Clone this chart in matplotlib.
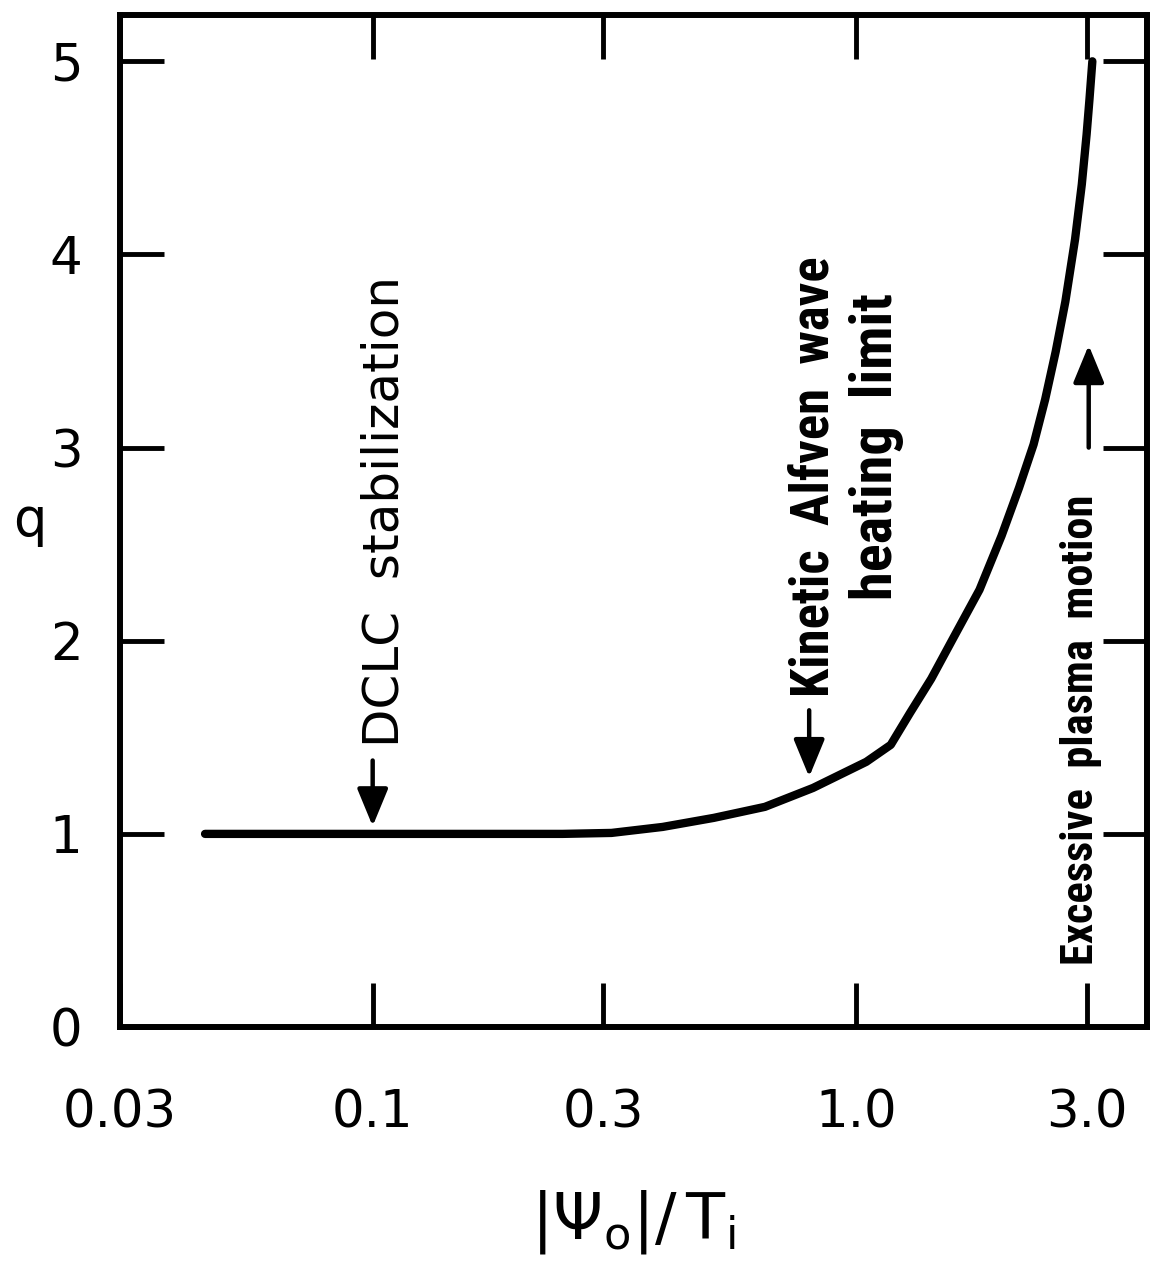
import matplotlib
matplotlib.use("Agg")
import matplotlib.pyplot as plt

# ---- data ----
psi_over_T = [0.045, 0.10, 0.247, 0.312, 0.398, 0.508, 0.648, 0.815, 1.05,
              1.180, 1.294, 1.431, 1.591, 1.801, 2.001, 2.175, 2.330, 2.462,
              2.589, 2.711, 2.839, 2.932, 3.000, 3.041, 3.083]
q_values = [1.0, 1.0, 1.0, 1.005, 1.036, 1.083, 1.14, 1.238, 1.373,
            1.461, 1.627, 1.803, 2.016, 2.264, 2.544, 2.793, 3.016, 3.249,
            3.497, 3.756, 4.078, 4.363, 4.622, 4.803, 5.0]

x_ticks = [0.03, 0.1, 0.3, 1.0, 3.0]
x_tick_labels = ["0.03", "0.1", "0.3", "1.0", "3.0"]
y_ticks = [0, 1, 2, 3, 4, 5]
y_tick_labels = ["0", "1", "2", "3", "4", "5"]

plt.rcParams['font.family'] = ['DejaVu Sans']
plt.rcParams['mathtext.fontset'] = 'dejavusans'
narrow = ['Roboto Condensed', 'Liberation Sans Narrow', 'DejaVu Sans Condensed',
          'DejaVu Sans']

fig = plt.figure(figsize=(11.5, 12.67), dpi=100)
ax = fig.add_axes([0.1043, 0.1894, 0.8931, 0.7988])

ax.plot(psi_over_T, q_values, color='black', lw=6, solid_capstyle='round',
        solid_joinstyle='round')

ax.set_xscale('log')
ax.set_xlim(0.03, 4.0)
ax.set_ylim(0, 5.24)

ax.set_xticks(x_ticks)
ax.set_xticklabels(x_tick_labels)
ax.set_yticks(y_ticks)
ax.set_yticklabels(y_tick_labels)
ax.xaxis.set_minor_locator(matplotlib.ticker.NullLocator())
ax.yaxis.set_minor_locator(matplotlib.ticker.NullLocator())

ax.tick_params(axis='both', which='major', direction='in', length=32,
               width=3.5, top=True, right=True, labelsize=37, color='black')
ax.tick_params(axis='x', pad=44)
ax.tick_params(axis='y', pad=27)

for sp in ax.spines.values():
    sp.set_linewidth(4.3)
    sp.set_color('black')

# axis labels
ax.text(-0.088, 0.50, 'q', transform=ax.transAxes, fontsize=38,
        ha='center', va='center')
ax.set_xlabel(r'$|\Psi_\mathrm{o}|/\,\mathrm{T}_\mathrm{i}$', fontsize=46,
              labelpad=36)

# annotations: vertical texts with arrows
arrow_kw = dict(arrowstyle='-|>,head_length=2.3,head_width=0.95', lw=3.2,
                color='black', shrinkA=0, shrinkB=0)

# DCLC stabilization
ax.annotate('', xy=(0.1, 1.04), xytext=(0.1, 1.38), arrowprops=arrow_kw)
ax.text(0.106, 1.45, 'DCLC  stabilization', rotation=90, fontsize=36,
        ha='center', va='bottom')

# Kinetic Alfven wave heating limit
ax.annotate('', xy=(0.80, 1.295), xytext=(0.80, 1.64), arrowprops=arrow_kw)
ax.text(0.82, 1.71, 'Kinetic  Alfven  wave', rotation=90, fontsize=38,
        ha='center', va='bottom', fontweight='bold', family=narrow)
ax.text(1.10, 2.21, 'heating  limit', rotation=90, fontsize=42,
        ha='center', va='bottom', fontweight='bold', family=narrow)

# Excessive plasma motion
ax.annotate('', xy=(3.03, 3.53), xytext=(3.03, 3.0), arrowprops=arrow_kw)
ax.text(2.92, 0.32, 'Excessive  plasma  motion', rotation=90, fontsize=32,
        ha='center', va='bottom', fontweight='bold', family=narrow)

fig.savefig('out.png', dpi=100)
